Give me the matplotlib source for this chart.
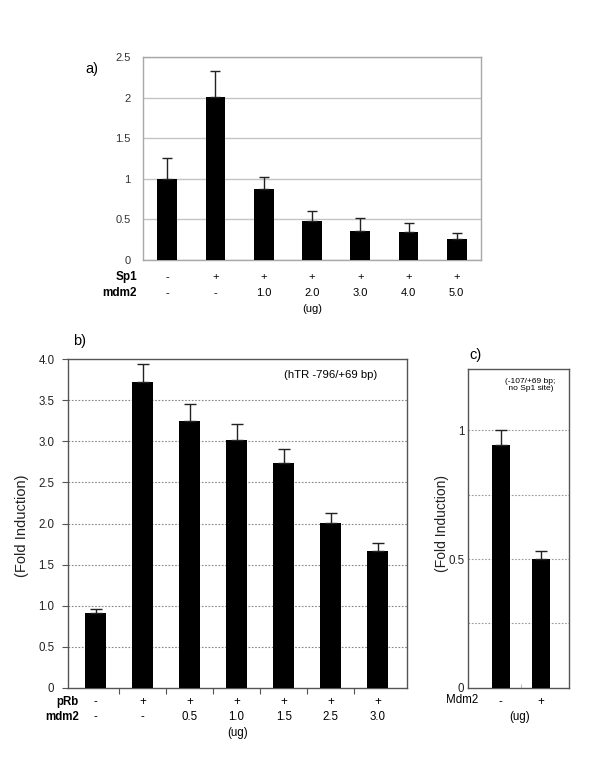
import matplotlib
matplotlib.use("Agg")
import matplotlib.pyplot as plt
import numpy as np

plt.rcParams['font.family'] = ['Liberation Sans', 'DejaVu Sans']

# ---- data ----
a_sp1 = ["-", "+", "+", "+", "+", "+", "+"]
a_mdm2 = ["-", "-", "1.0", "2.0", "3.0", "4.0", "5.0"]
a_values = [1.00, 2.01, 0.87, 0.48, 0.36, 0.34, 0.255]
a_err = [0.26, 0.32, 0.15, 0.12, 0.16, 0.12, 0.08]
a_yticks = [0, 0.5, 1, 1.5, 2, 2.5]
a_yticklabels = ["0", "0.5", "1", "1.5", "2", "2.5"]

b_prb = ["-", "+", "+", "+", "+", "+", "+"]
b_mdm2 = ["-", "-", "0.5", "1.0", "1.5", "2.5", "3.0"]
b_values = [0.91, 3.72, 3.25, 3.02, 2.74, 2.01, 1.66]
b_err = [0.055, 0.22, 0.20, 0.19, 0.17, 0.12, 0.10]
b_yticks = [0, 0.5, 1.0, 1.5, 2.0, 2.5, 3.0, 3.5, 4.0]
b_yticklabels = ["0", "0.5", "1.0", "1.5", "2.0", "2.5", "3.0", "3.5", "4.0"]

c_mdm2 = ["-", "+"]
c_values = [0.943, 0.50]
c_err = [0.057, 0.031]
c_yticks = [0, 0.5, 1]
c_yticklabels = ["0", "0.5", "1"]
c_grid = [0.25, 0.5, 0.75, 1.0]

W, H = 600, 759
fig = plt.figure(figsize=(W / 100, H / 100), dpi=100)


def fx(x):
    return x / W


def fy(y):
    return 1 - y / H


def axes_px(l, t, r, b):
    return fig.add_axes([fx(l), fy(b), (r - l) / W, (b - t) / H])


# ---------------- panel a ----------------
ax = axes_px(143, 57, 481, 260)
xa = np.arange(len(a_values))
ax.bar(xa, a_values, width=0.41, color="black", zorder=3)
ax.errorbar(xa, a_values, yerr=[np.zeros(len(a_err)), a_err], fmt="none",
            ecolor="#222222", elinewidth=1, capsize=3.5, capthick=1, zorder=4)
ax.set_xlim(-0.5, 6.5)
ax.set_ylim(0, 2.5)
ax.set_yticks(a_yticks)
ax.set_yticklabels(a_yticklabels, fontsize=8, color="#333333")
ax.set_xticks([])
ax.yaxis.grid(True, color="#c4c4c4", linewidth=1, linestyle="-")
ax.set_axisbelow(True)
for s in ax.spines.values():
    s.set_color("#a8a8a8")
    s.set_linewidth(1)
ax.tick_params(axis="y", length=0, pad=9)
for i in range(len(a_values)):
    xp = 167.5 + i * 48.2
    fig.text(fx(xp), fy(277), a_sp1[i], ha="center", va="center", fontsize=8)
    fig.text(fx(xp), fy(293), a_mdm2[i], ha="center", va="center", fontsize=8)
fig.text(fx(137), fy(277), "Sp1", ha="right", va="center", fontsize=8.5, fontweight="bold")
fig.text(fx(137), fy(293), "mdm2", ha="right", va="center", fontsize=8.5, fontweight="bold")
fig.text(fx(312), fy(309), "(ug)", ha="center", va="center", fontsize=8)
fig.text(fx(92), fy(69), "a)", ha="center", va="center", fontsize=10.5)

# ---------------- panel b ----------------
bx = axes_px(68.3, 359, 407.3, 688)
xb = np.arange(len(b_values))
bx.bar(xb, b_values, width=0.45, color="black", zorder=3)
bx.errorbar(xb, b_values, yerr=[np.zeros(len(b_err)), b_err], fmt="none",
            ecolor="#222222", elinewidth=1, capsize=4.5, capthick=1, zorder=4)
bx.set_xlim(-0.58, 6.63)
bx.set_ylim(0, 4.0)
bx.set_yticks(b_yticks)
bx.set_yticklabels(b_yticklabels, fontsize=8.3, color="#222222")
bx.set_xticks(np.arange(len(b_values) - 1) + 0.5)
bx.set_xticklabels([])
for g in b_yticks[1:-1]:
    bx.axhline(g, color="#888888", linewidth=0.8, linestyle=(0, (1.5, 1.5)), zorder=1)
for s in bx.spines.values():
    s.set_color("#555555")
    s.set_linewidth(1)
bx.tick_params(axis="both", direction="out", length=4, color="#555555", pad=6)
for i in range(len(b_values)):
    xp = 95.5 + i * 47.05
    fig.text(fx(xp), fy(702), b_prb[i], ha="center", va="center", fontsize=8.3)
    fig.text(fx(xp), fy(717.5), b_mdm2[i], ha="center", va="center", fontsize=8.3)
fig.text(fx(79), fy(702), "pRb", ha="right", va="center", fontsize=8.3, fontweight="bold")
fig.text(fx(79), fy(717.5), "mdm2", ha="right", va="center", fontsize=8.3, fontweight="bold")
fig.text(fx(238), fy(733), "(ug)", ha="center", va="center", fontsize=8.3)
fig.text(fx(80), fy(341), "b)", ha="center", va="center", fontsize=10.5)
fig.text(fx(331), fy(375), "(hTR -796/+69 bp)", ha="center", va="center", fontsize=8.2)
fig.text(fx(22), fy(526), "(Fold Induction)", ha="center", va="center",
         rotation=90, fontsize=10.5, color="#222222")

# ---------------- panel c ----------------
cx = axes_px(468.3, 369.3, 569.3, 687.7)
xc = np.arange(len(c_values))
cx.bar(xc, c_values, width=0.44, color="black", zorder=3)
cx.errorbar(xc, c_values, yerr=[np.zeros(len(c_err)), c_err], fmt="none",
            ecolor="#222222", elinewidth=1, capsize=4.5, capthick=1, zorder=4)
cx.set_xlim(-0.8, 1.7)
cx.set_ylim(0, 1.237)
cx.set_yticks(c_yticks)
cx.set_yticklabels(c_yticklabels, fontsize=8.3, color="#222222")
cx.set_xticks([0.5])
cx.set_xticklabels([])
for g in c_grid:
    cx.axhline(g, color="#999999", linewidth=0.8, linestyle=(0, (1.5, 1.5)), zorder=1)
for s in cx.spines.values():
    s.set_color("#555555")
    s.set_linewidth(1)
cx.tick_params(axis="y", length=0, pad=3)
cx.tick_params(axis="x", direction="in", length=3, color="#bbbbbb")
for i in range(len(c_values)):
    xp = 500.5 + i * 40.5
    fig.text(fx(xp), fy(702), c_mdm2[i], ha="center", va="center", fontsize=8.3)
fig.text(fx(462.5), fy(700), "Mdm2", ha="center", va="center", fontsize=8.3)
fig.text(fx(520), fy(717), "(ug)", ha="center", va="center", fontsize=8.3)
fig.text(fx(475), fy(355), "c)", ha="center", va="center", fontsize=10.5)
fig.text(fx(530), fy(385), "(-107/+69 bp;\n no Sp1 site)", ha="center", va="center",
         fontsize=6, linespacing=1.1)
fig.text(fx(442), fy(524), "(Fold Induction)", ha="center", va="center",
         rotation=90, fontsize=10, color="#222222")

fig.savefig("out.png", dpi=100)
